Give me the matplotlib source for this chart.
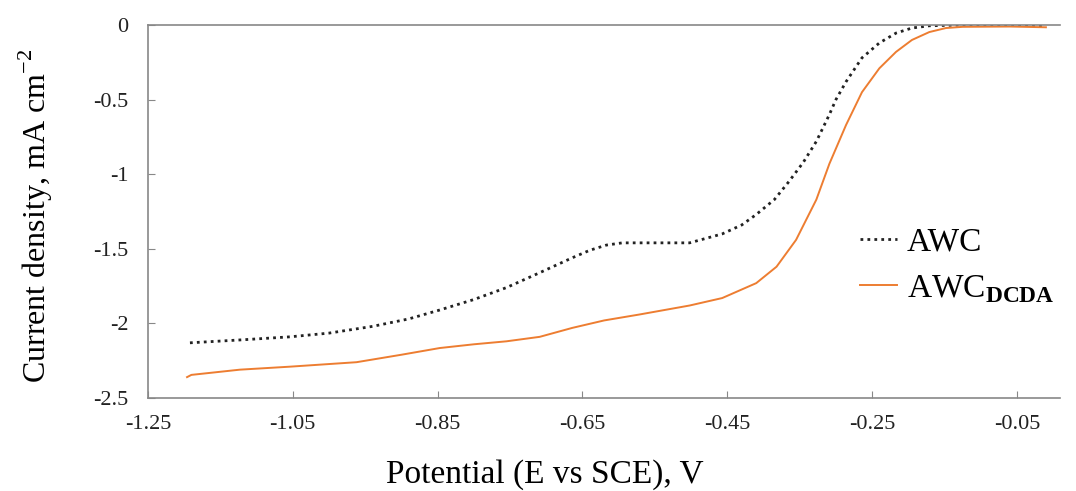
import matplotlib
matplotlib.use('Agg')
import matplotlib.pyplot as plt

plt.rcParams['font.family'] = ['Liberation Serif', 'DejaVu Serif']
plt.rcParams['mathtext.fontset'] = 'custom'
plt.rcParams['mathtext.rm'] = 'Liberation Serif'
plt.rcParams['mathtext.bf'] = 'Liberation Serif:bold'

# potential (V vs SCE) and current density (mA cm-2)
awc_v = [-1.192, -1.12, -1.054, -1.0, -0.94, -0.89, -0.847, -0.80, -0.755, -0.709,
         -0.664, -0.64, -0.617, -0.595, -0.571, -0.502, -0.457, -0.43, -0.41, -0.385,
         -0.365, -0.345, -0.327, -0.309, -0.30, -0.286, -0.264, -0.24, -0.217, -0.195,
         -0.171, -0.13, -0.06, -0.01]
awc_j = [-2.13, -2.11, -2.09, -2.065, -2.02, -1.97, -1.91, -1.84, -1.76, -1.66,
         -1.56, -1.51, -1.475, -1.46, -1.46, -1.46, -1.40, -1.34, -1.27, -1.17,
         -1.05, -0.92, -0.78, -0.60, -0.50, -0.38, -0.22, -0.12, -0.054, -0.02,
         -0.005, 0.0, 0.0, -0.005]

dcda_v = [-1.196, -1.19, -1.123, -1.054, -0.962, -0.90, -0.847, -0.80, -0.755, -0.709,
          -0.664, -0.62, -0.571, -0.502, -0.457, -0.41, -0.382, -0.355, -0.327, -0.309,
          -0.286, -0.264, -0.24, -0.217, -0.195, -0.171, -0.148, -0.125, -0.06, -0.01]
dcda_j = [-2.36, -2.345, -2.31, -2.29, -2.26, -2.21, -2.165, -2.14, -2.12, -2.09,
          -2.03, -1.98, -1.94, -1.88, -1.83, -1.73, -1.62, -1.44, -1.17, -0.93,
          -0.67, -0.45, -0.29, -0.18, -0.10, -0.047, -0.02, -0.012, -0.01, -0.015]

xticks = [-1.25, -1.05, -0.85, -0.65, -0.45, -0.25, -0.05]
yticks = [0, -0.5, -1, -1.5, -2, -2.5]

fig = plt.figure(figsize=(10.76, 4.91), dpi=100)
ax = fig.add_axes([0.1375, 0.1894, 0.848, 0.7596])

ax.plot(awc_v, awc_j, color='#222222', linestyle=(0, (1, 1.5)), linewidth=2.0, label='AWC')
ax.plot(dcda_v, dcda_j, color='#ED7D31', linewidth=1.4, label=r'AWC$_{\mathbf{DCDA}}$')

ax.set_xlim(-1.25, 0.01)
ax.set_ylim(-2.5, 0)
ax.set_xticks(xticks)
ax.set_xticklabels(['%g' % t for t in xticks])
ax.set_yticks(yticks)
ax.set_yticklabels(['%g' % t for t in yticks])

ax.spines['right'].set_visible(False)
for s in ['left', 'top', 'bottom']:
    ax.spines[s].set_color('#888888')
    ax.spines[s].set_linewidth(1.2)
ax.tick_params(axis='both', direction='in', length=5, color='#888888',
               labelsize=16, labelcolor='#222222')
ax.tick_params(axis='x', pad=12)
ax.tick_params(axis='y', pad=14)

ax.legend(loc='upper left', bbox_to_anchor=(0.755, 0.52), frameon=False,
          fontsize=24, handlelength=1.1, handletextpad=0.3, labelspacing=0.45,
          borderpad=0.2)

fig.text(0.5065, 0.016, 'Potential (E vs SCE), V', fontsize=24, ha='center', va='baseline')
fig.text(0.033, 0.56, r'Current density, mA cm$^{-2}$', fontsize=23,
         rotation=90, ha='center', va='center')

fig.savefig('out.png', dpi=100)
